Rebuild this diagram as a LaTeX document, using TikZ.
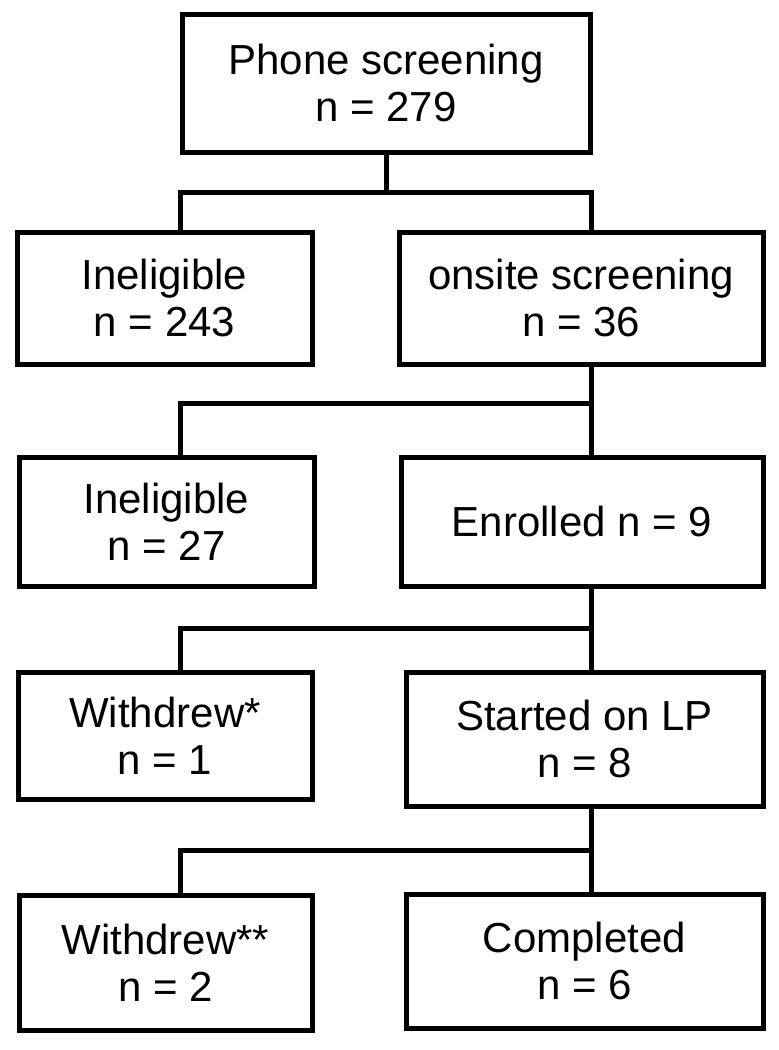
\documentclass[tikz,border=0pt]{standalone}
\usepackage{fontspec}
\setmainfont{Liberation Sans}
\begin{document}
\begin{tikzpicture}[x=1pt,y=-1pt,
  box/.style={draw=black,line width=5pt,fill=white,inner sep=0pt,align=center,
    font=\fontsize{42}{47}\selectfont},
  conn/.style={draw=black,line width=5pt}]
\useasboundingbox (0,0) rectangle (779,1050);
% boxes
\node[box,minimum width=408pt,minimum height=138pt] (top) at (386,83) {Phone screening\\n = 279};
\node[box,minimum width=295pt,minimum height=132pt] (r2l) at (164.5,298) {Ineligible\\n = 243};
\node[box,minimum width=364pt,minimum height=132pt] (r2r) at (581,298) {onsite screening\\n = 36};
\node[box,minimum width=295pt,minimum height=129pt] (r3l) at (166.5,521.5) {Ineligible\\n = 27};
\node[box,minimum width=362pt,minimum height=129pt] (r3r) at (582,521.5) {Enrolled n = 9};
\node[box,minimum width=294pt,minimum height=127pt] (r4l) at (165,735.5) {Withdrew*\\n = 1};
\node[box,minimum width=357pt,minimum height=134pt] (r4r) at (584.5,739) {Started on LP\\n = 8};
\node[box,minimum width=293pt,minimum height=135pt] (r5l) at (165.5,962.5) {Withdrew**\\n = 2};
\node[box,minimum width=357pt,minimum height=134pt] (r5r) at (584.5,961) {Completed\\n = 6};
% junctions
\coordinate (j1) at (386,192);
\coordinate (c1l) at (180,192);
\coordinate (c1r) at (591,192);
\coordinate (c2l) at (180,403);
\coordinate (c2r) at (591,403);
\coordinate (c3l) at (180,628);
\coordinate (c3r) at (591,628);
\coordinate (c4l) at (180,850);
\coordinate (c4r) at (591,850);
% connectors
\draw[conn] (top.south) -- (j1);
\draw[conn] (r2l.north -| c1l) -- (c1l) -- (c1r) -- (r2r.north -| c1r);
\draw[conn] (r2r.south -| c2r) -- (c2r) -- (c2l) -- (r3l.north -| c2l);
\draw[conn] (c2r) -- (r3r.north -| c2r);
\draw[conn] (r3r.south -| c3r) -- (c3r) -- (c3l) -- (r4l.north -| c3l);
\draw[conn] (c3r) -- (r4r.north -| c3r);
\draw[conn] (r4r.south -| c4r) -- (c4r) -- (c4l) -- (r5l.north -| c4l);
\draw[conn] (c4r) -- (r5r.north -| c4r);
\end{tikzpicture}
\end{document}
